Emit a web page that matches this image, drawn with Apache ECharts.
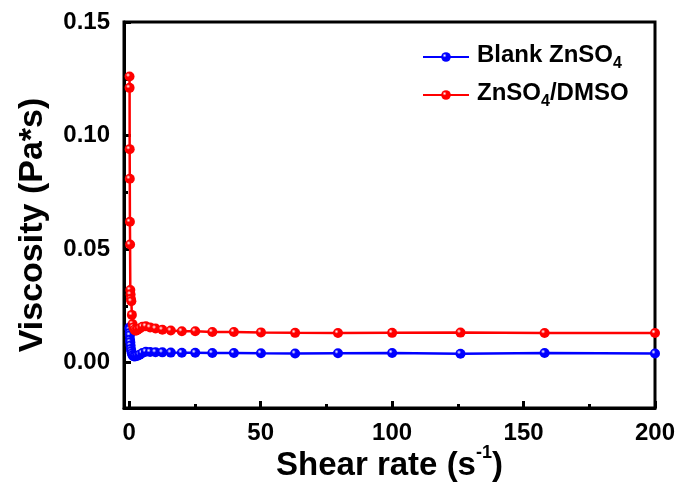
<!DOCTYPE html>
<html>
<head>
<meta charset="utf-8">
<script src="https://cdn.jsdelivr.net/npm/echarts@6/dist/echarts.min.js"></script>
<style>html,body{margin:0;padding:0;background:#fff}#c{width:681px;height:491px}</style>
</head>
<body>
<div id="c"></div>
<script>
var shearRate = [0.1,0.126,0.158,0.2,0.251,0.316,0.398,0.501,0.631,0.794,1,1.26,1.58,2,2.51,3.16,3.98,5.01,6.31,7.94,10,12.6,15.8,20,25.1,31.6,39.8,50.1,63.1,79.4,100,126,158,200];
var blankVisc = [0.0155,0.015,0.0145,0.013,0.012,0.010,0.009,0.0075,0.006,0.005,0.004,0.0032,0.0028,0.0027,0.0028,0.0030,0.0035,0.0042,0.0048,0.0047,0.0046,0.0045,0.0044,0.0043,0.0043,0.0042,0.0042,0.0041,0.0040,0.0041,0.0042,0.0039,0.0042,0.0040];
var dmsoVisc = [0.126,0.121,0.094,0.081,0.062,0.052,0.032,0.030,0.028,0.027,0.021,0.017,0.0155,0.0145,0.014,0.0145,0.0150,0.0158,0.0160,0.0155,0.0150,0.0145,0.0141,0.0138,0.0138,0.0135,0.0135,0.0133,0.0131,0.0130,0.0131,0.0132,0.0130,0.0130];
var seriesNames = ['Blank ZnSO4','ZnSO4/DMSO'];
var xLabels = [0,50,100,150,200];
var xMinor = [25,75,125,175];
var yLabels = [0,0.05,0.10,0.15];
var yMinor = [0.025,0.075,0.125];

function pairs(xs, ys){ return xs.map(function(x,i){ return [x, ys[i]]; }); }
function ball(c){
  return {type:'radial',x:0.35,y:0.35,r:0.7,colorStops:[{offset:0,color:'#ffffff'},{offset:0.3,color:c},{offset:1,color:c}]};
}
var FONT = '"Liberation Sans", Arial, sans-serif';
var chart = echarts.init(document.getElementById('c'));
var xMin = -2, xMax = 200, yMin = -0.02, yMax = 0.15;
var nStyle = {fontFamily: FONT, fontWeight:'bold', fontSize:24, color:'#000', verticalAlign:'top', lineHeight:28};
chart.setOption({
  animation:false,
  grid: {left:124,right:26,top:22,bottom:83,show:true,borderColor:'#000',borderWidth:3,backgroundColor:'transparent'},
  legend: {
    left: 417, top: 38, orient:'vertical', itemGap: 9, itemWidth: 46, itemHeight: 12,
    data: seriesNames,
    formatter: function(n){
      if (n === seriesNames[0]) return '{f|Blank ZnSO}{s|4}';
      return '{f|ZnSO}{s|4}{n|/DMSO}';
    },
    textStyle: {
      fontFamily: FONT, fontWeight:'bold', fontSize: 24, color:'#000',
      rich: {
        f:Object.assign({}, nStyle, {padding:[0,0,0,3]}),
        n:nStyle,
        s:{fontFamily: FONT, fontWeight:'bold', fontSize:16, color:'#000', verticalAlign:'top', lineHeight:28, padding:[13,0,0,0]}
      }
    }
  },
  xAxis: [{
    type:'value', min:xMin, max:xMax,
    axisLine:{show:true,onZero:false,lineStyle:{color:'#000',width:3}},
    axisTick:{show:true,inside:true,length:7,lineStyle:{color:'#000',width:3},customValues:xLabels},
    axisLabel:{customValues:xLabels,fontFamily:FONT,fontWeight:'bold',fontSize:24,color:'#000',margin:13},
    splitLine:{show:false},
    name:'{n|Shear rate (s}{sup|-1}{n|)}', nameLocation:'middle', nameGap:36, nameMoveOverlap:false,
    nameTextStyle:{fontFamily:FONT,fontWeight:'bold',fontSize:33,color:'#000',
      rich:{n:{fontFamily:FONT,fontWeight:'bold',fontSize:33,color:'#000',verticalAlign:'bottom',lineHeight:38},
            sup:{fontFamily:FONT,fontWeight:'bold',fontSize:18,color:'#000',verticalAlign:'bottom',lineHeight:38,padding:[0,0,20,0]}}}
  },{
    type:'value', min:xMin, max:xMax, position:'bottom',
    axisLine:{show:false,onZero:false},
    axisTick:{show:true,inside:true,length:4,lineStyle:{color:'#000',width:3},customValues:xMinor},
    axisLabel:{show:false}, splitLine:{show:false}
  }],
  yAxis: [{
    type:'value', min:yMin, max:yMax,
    axisLine:{show:true,onZero:false,lineStyle:{color:'#000',width:3}},
    axisTick:{show:true,inside:true,length:7,lineStyle:{color:'#000',width:3},customValues:yLabels},
    axisLabel:{customValues:yLabels,fontFamily:FONT,fontWeight:'bold',fontSize:24,color:'#000',margin:14,
      formatter:function(v){return v.toFixed(2);}},
    splitLine:{show:false},
    name:'Viscosity (Pa*s)', nameLocation:'middle', nameGap:74, nameMoveOverlap:false,
    nameTextStyle:{fontFamily:FONT,fontWeight:'bold',fontSize:34,color:'#000',padding:[0,20,0,0]}
  },{
    type:'value', min:yMin, max:yMax, position:'left',
    axisLine:{show:false,onZero:false},
    axisTick:{show:true,inside:true,length:4,lineStyle:{color:'#000',width:3},customValues:yMinor},
    axisLabel:{show:false}, splitLine:{show:false}
  }],
  series: [{
    name: seriesNames[0], type:'line', data: pairs(shearRate, blankVisc),
    symbol:'circle', symbolSize:10, clip:false,
    lineStyle:{color:'#0000ff',width:2.5},
    itemStyle:{color:ball('#0000ff'),borderWidth:0}
  },{
    name: seriesNames[1], type:'line', data: pairs(shearRate, dmsoVisc),
    symbol:'circle', symbolSize:10, clip:false,
    lineStyle:{color:'#ff0000',width:2.5},
    itemStyle:{color:ball('#ff0000'),borderWidth:0}
  }]
});
</script>
</body>
</html>
